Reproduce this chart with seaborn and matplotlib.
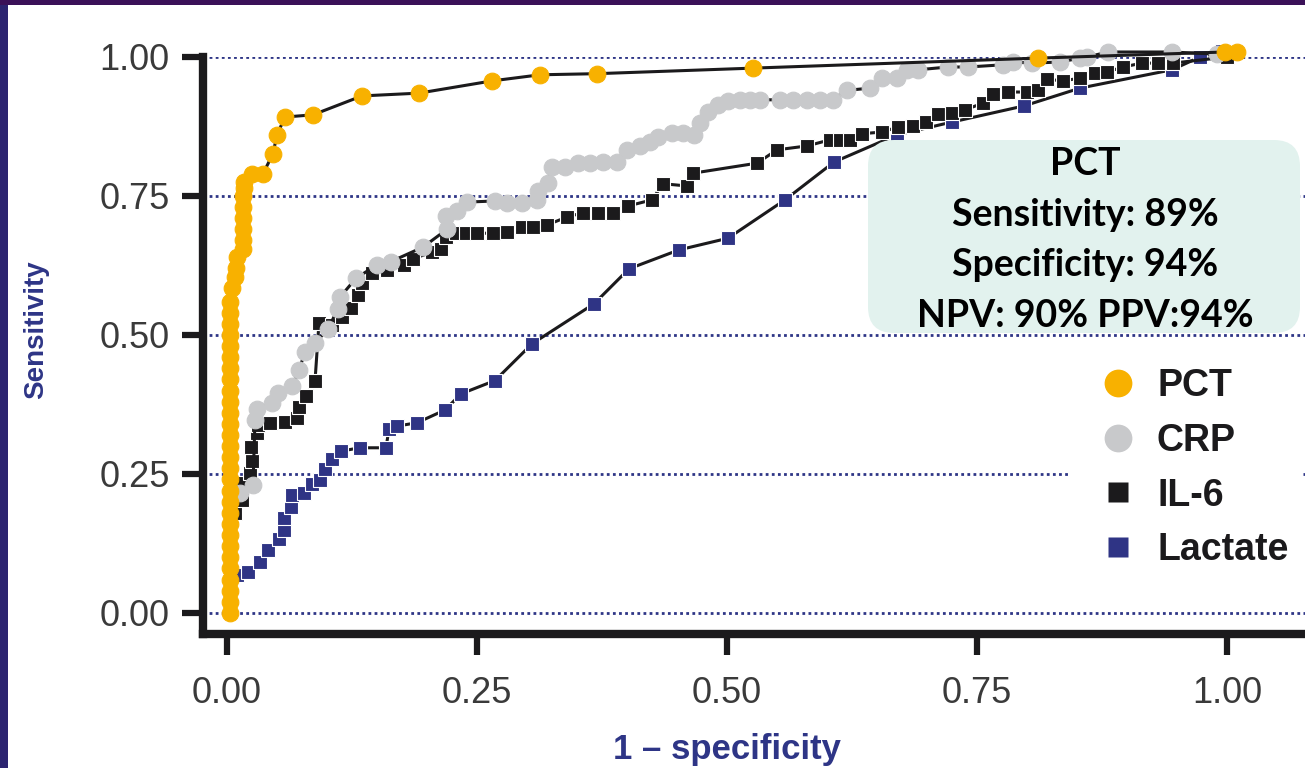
import numpy as np
import pandas as pd
import seaborn as sns
import matplotlib.pyplot as plt
from matplotlib.patches import FancyBboxPatch, Rectangle
from matplotlib.lines import Line2D
from matplotlib.ticker import FormatStrFormatter

# ROC points (x = 1 - specificity, y = sensitivity)
pct_x = [0.003, 0.003, 0.003, 0.003, 0.003, 0.003, 0.003, 0.003, 0.003, 0.003,
         0.003, 0.003, 0.003, 0.003, 0.003, 0.003, 0.003, 0.003, 0.003, 0.003,
         0.003, 0.003, 0.003, 0.003, 0.003, 0.003, 0.003, 0.003, 0.003,
         0.005, 0.008, 0.009, 0.010, 0.016, 0.016, 0.016, 0.016, 0.016, 0.016,
         0.017, 0.017, 0.025, 0.036, 0.046, 0.050, 0.058, 0.086, 0.135, 0.192,
         0.265, 0.313, 0.370, 0.526, 0.811, 0.998, 1.010]
pct_y = [0.00, 0.02, 0.04, 0.06, 0.08, 0.10, 0.12, 0.14, 0.16, 0.18,
         0.20, 0.22, 0.24, 0.26, 0.28, 0.30, 0.32, 0.34, 0.36, 0.38,
         0.40, 0.42, 0.44, 0.46, 0.48, 0.50, 0.52, 0.54, 0.56,
         0.585, 0.605, 0.62, 0.64, 0.655, 0.67, 0.69, 0.71, 0.73, 0.75,
         0.765, 0.775, 0.79, 0.79, 0.826, 0.86, 0.892, 0.896, 0.93, 0.935,
         0.957, 0.968, 0.97, 0.98, 0.998, 1.009, 1.009]

crp_x = [0.013, 0.026, 0.028, 0.030, 0.045, 0.051, 0.065, 0.072, 0.078, 0.088,
         0.101, 0.111, 0.113, 0.129, 0.150, 0.164, 0.196, 0.220, 0.219, 0.230,
         0.240, 0.268, 0.280, 0.295, 0.310, 0.311, 0.321, 0.325, 0.338, 0.351,
         0.363, 0.376, 0.390, 0.400, 0.413, 0.423, 0.431, 0.445, 0.456, 0.467,
         0.473, 0.481, 0.491, 0.501, 0.513, 0.523, 0.533, 0.553, 0.566, 0.580,
         0.593, 0.606, 0.620, 0.643, 0.655, 0.670, 0.680, 0.691, 0.721, 0.741,
         0.776, 0.786, 0.805, 0.833, 0.853, 0.860, 0.881, 0.945, 0.990]
crp_y = [0.216, 0.230, 0.347, 0.367, 0.378, 0.396, 0.408, 0.437, 0.469, 0.485,
         0.511, 0.547, 0.568, 0.602, 0.626, 0.632, 0.658, 0.690, 0.714, 0.723,
         0.739, 0.741, 0.737, 0.737, 0.743, 0.759, 0.773, 0.802, 0.802, 0.809,
         0.809, 0.811, 0.811, 0.833, 0.840, 0.847, 0.856, 0.863, 0.863, 0.860,
         0.881, 0.901, 0.914, 0.921, 0.923, 0.923, 0.923, 0.923, 0.923, 0.923,
         0.923, 0.923, 0.940, 0.944, 0.962, 0.962, 0.977, 0.977, 0.982, 0.982,
         0.986, 0.991, 0.989, 0.991, 0.998, 1.000, 1.009, 1.009, 1.005]

il6_x = [0.008, 0.015, 0.015, 0.023, 0.025, 0.024, 0.030, 0.031, 0.043, 0.058,
         0.070, 0.072, 0.079, 0.088, 0.092, 0.105, 0.115, 0.124, 0.131, 0.135,
         0.145, 0.160, 0.177, 0.186, 0.205, 0.214, 0.219, 0.229, 0.239, 0.250,
         0.266, 0.280, 0.295, 0.306, 0.320, 0.340, 0.356, 0.371, 0.386, 0.401,
         0.425, 0.436, 0.460, 0.466, 0.530, 0.550, 0.580, 0.603, 0.613, 0.623,
         0.635, 0.655, 0.671, 0.686, 0.699, 0.711, 0.725, 0.738, 0.756, 0.766,
         0.781, 0.800, 0.811, 0.820, 0.836, 0.853, 0.868, 0.880, 0.896, 0.915,
         0.931, 0.946, 1.000]
il6_y = [0.180, 0.203, 0.234, 0.252, 0.273, 0.299, 0.324, 0.338, 0.342, 0.344,
         0.351, 0.371, 0.390, 0.417, 0.522, 0.518, 0.532, 0.548, 0.572, 0.593,
         0.612, 0.617, 0.626, 0.637, 0.649, 0.655, 0.676, 0.683, 0.683, 0.683,
         0.683, 0.685, 0.694, 0.694, 0.698, 0.712, 0.720, 0.720, 0.720, 0.732,
         0.743, 0.772, 0.768, 0.791, 0.809, 0.833, 0.840, 0.851, 0.851, 0.851,
         0.862, 0.865, 0.874, 0.876, 0.883, 0.897, 0.899, 0.905, 0.917, 0.933,
         0.937, 0.937, 0.941, 0.960, 0.957, 0.962, 0.971, 0.973, 0.982, 0.989,
         0.989, 0.989, 1.000]

lac_x = [0.010, 0.021, 0.033, 0.041, 0.052, 0.057, 0.057, 0.064, 0.065, 0.077,
         0.085, 0.093, 0.098, 0.105, 0.114, 0.133, 0.159, 0.162, 0.170, 0.190,
         0.218, 0.234, 0.268, 0.305, 0.367, 0.402, 0.452, 0.501, 0.558, 0.607,
         0.670, 0.725, 0.797, 0.853, 0.945, 0.973, 0.995]
lac_y = [0.068, 0.074, 0.092, 0.113, 0.133, 0.149, 0.171, 0.190, 0.212, 0.216,
         0.232, 0.239, 0.259, 0.277, 0.291, 0.297, 0.297, 0.331, 0.336, 0.342,
         0.365, 0.394, 0.418, 0.484, 0.556, 0.619, 0.653, 0.674, 0.743, 0.811,
         0.860, 0.883, 0.912, 0.944, 0.977, 1.000, 1.010]

labels = ['PCT', 'CRP', 'IL-6', 'Lactate']
colors = ['#f8b100', '#c8c9cb', '#1b1a1c', '#2f3485']
box_lines = ['PCT', 'Sensitivity: 89%', 'Specificity: 94%', 'NPV: 90% PPV:94%']

W, H = 1305, 768
navy = '#2e3586'

sns.set_theme(style='white')
plt.rcParams['font.family'] = ['Liberation Sans', 'DejaVu Sans']

fig = plt.figure(figsize=(W / 100, H / 100), dpi=100)
fig.patch.set_facecolor('white')
ax = fig.add_axes([203 / W, 1 - 634 / H, 1 - 203 / W, (634 - 57) / H])

series = [
    (lac_x, lac_y, 's', 9.5, colors[3], 'white', 3),
    (il6_x, il6_y, 's', 9.5, colors[2], 'white', 4),
    (crp_x, crp_y, 'o', 12, colors[1], colors[1], 5),
    (pct_x, pct_y, 'o', 12, colors[0], colors[0], 6),
]
for xs, ys, mk, ms, fc, ec, z in series:
    df = pd.DataFrame({'x': xs, 'y': ys})
    sns.lineplot(data=df, x='x', y='y', estimator=None, sort=False, ax=ax,
                 color='#1b1a1c', linewidth=2.2, marker=mk, markersize=ms,
                 markerfacecolor=fc, markeredgecolor=ec, markeredgewidth=0.8,
                 zorder=z, clip_on=False)

ax.set_xlim(-0.024, 1.078)
ax.set_ylim(-0.038, 1.0)
ax.set_xticks([0, 0.25, 0.5, 0.75, 1.0])
ax.set_yticks([0, 0.25, 0.5, 0.75, 1.0])
ax.xaxis.set_major_formatter(FormatStrFormatter('%.2f'))
ax.yaxis.set_major_formatter(FormatStrFormatter('%.2f'))
ax.set_xlabel('')
ax.set_ylabel('')

ax.set_axisbelow(True)
ax.yaxis.grid(True, color=navy, linestyle=(0, (1, 1.2)), linewidth=2)
ax.xaxis.grid(False)

for s in ['top', 'right']:
    ax.spines[s].set_visible(False)
for s in ['left', 'bottom']:
    ax.spines[s].set_linewidth(6)
    ax.spines[s].set_color('#1b1a1c')

ax.tick_params(axis='both', which='major', bottom=True, left=True, length=15,
               width=4.5, color='#1b1a1c', labelsize=26, labelcolor='#3a3a3a')
ax.tick_params(axis='y', pad=9)
ax.tick_params(axis='x', pad=15)

fig.text(36 / W, 1 - 330 / H, 'Sensitivity', rotation=90, ha='center',
         va='center', fontsize=20, fontweight='bold', color=navy)
fig.text(727 / W, 1 - 750 / H, '1 – specificity', ha='center', va='center',
         fontsize=25, fontweight='bold', color=navy)

# info box
box = FancyBboxPatch((868 / W, 1 - 333 / H), 432 / W, 193 / H,
                     boxstyle='round,pad=0,rounding_size=0.02',
                     mutation_aspect=W / H, transform=fig.transFigure,
                     facecolor='#e2f2ee', edgecolor='none', zorder=2)
fig.add_artist(box)
fig.text(1085 / W, 1 - 240 / H, '\n'.join(box_lines), ha='center', va='center',
         fontsize=27, fontweight='bold', family=['Lato', 'DejaVu Sans'],
         linespacing=1.6, color='black', zorder=3)

handles = [
    Line2D([], [], ls='none', marker='o', markersize=20, markerfacecolor=colors[0], markeredgecolor='none'),
    Line2D([], [], ls='none', marker='o', markersize=20, markerfacecolor=colors[1], markeredgecolor='none'),
    Line2D([], [], ls='none', marker='s', markersize=15, markerfacecolor=colors[2], markeredgecolor='none'),
    Line2D([], [], ls='none', marker='s', markersize=15, markerfacecolor=colors[3], markeredgecolor='none'),
]
leg = ax.legend(handles, labels, loc='upper left',
                bbox_to_anchor=(1070 / W, 1 - 355 / H), bbox_transform=fig.transFigure,
                frameon=True, facecolor='white', edgecolor='none', framealpha=1,
                fancybox=False, borderpad=0.35, borderaxespad=0, handlelength=1.85,
                handletextpad=0.12, labelspacing=0.5,
                prop={'size': 27, 'weight': 'bold'})
for t in leg.get_texts():
    t.set_color('#1b1a1c')

# dark slide frame at the edges
fig.add_artist(Rectangle((0, 0), 8 / W, 1, transform=fig.transFigure,
                         facecolor='#2c2470', edgecolor='none', zorder=10))
fig.add_artist(Rectangle((0, 1 - 5 / H), 1, 5 / H, transform=fig.transFigure,
                         facecolor='#3b1158', edgecolor='none', zorder=10))

fig.savefig('out.png', dpi=100)
